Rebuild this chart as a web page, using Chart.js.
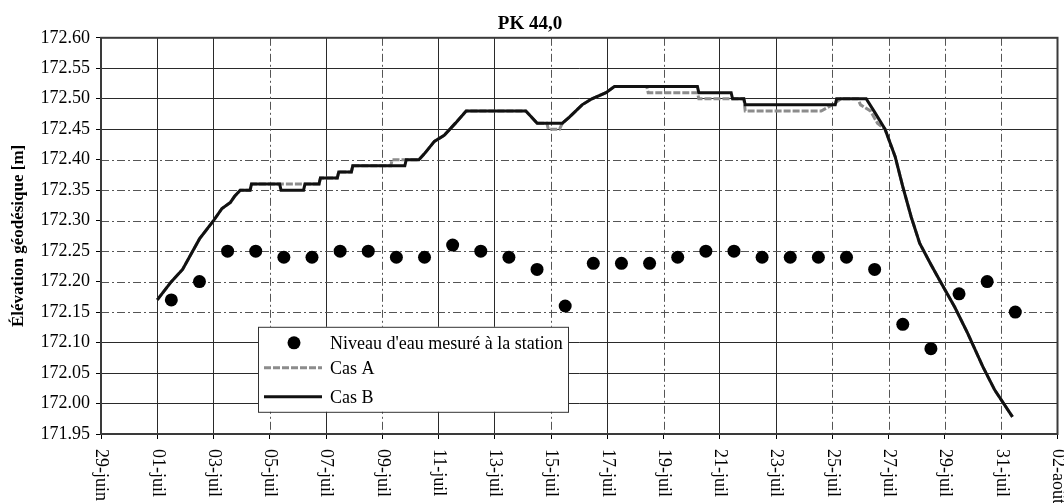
<!DOCTYPE html>
<html>
<head>
<meta charset="utf-8">
<script src="https://cdn.jsdelivr.net/npm/chart.js@4/dist/chart.umd.min.js"></script>
<style>
  body { margin: 0; background: #fff; }
</style>
</head>
<body>
<canvas id="chart" width="1064" height="503"></canvas>
<script>
// x is counted in days, 0 = 29-juin
const xTickDays = [0, 2, 4, 6, 8, 10, 12, 14, 16, 18, 20, 22, 24, 26, 28, 30, 32, 34];
const xTickLabels = ['29-juin', '01-juil', '03-juil', '05-juil', '07-juil', '09-juil', '11-juil',
  '13-juil', '15-juil', '17-juil', '19-juil', '21-juil', '23-juil', '25-juil', '27-juil',
  '29-juil', '31-juil', '02-août'];
const yTicks = [171.95, 172.00, 172.05, 172.10, 172.15, 172.20, 172.25, 172.30,
  172.35, 172.40, 172.45, 172.50, 172.55, 172.60];

// daily readings at the station (noon)
const measureDays = [2.5, 3.5, 4.5, 5.5, 6.5, 7.5, 8.5, 9.5, 10.5, 11.5, 12.5, 13.5, 14.5, 15.5,
  16.5, 17.5, 18.5, 19.5, 20.5, 21.5, 22.5, 23.5, 24.5, 25.5, 26.5, 27.5, 28.5, 29.5, 30.5,
  31.5, 32.5];
const measureLevels = [172.17, 172.20, 172.25, 172.25, 172.24, 172.24, 172.25, 172.25, 172.24,
  172.24, 172.26, 172.25, 172.24, 172.22, 172.16, 172.23, 172.23, 172.23, 172.24, 172.25,
  172.25, 172.24, 172.24, 172.24, 172.24, 172.22, 172.13, 172.09, 172.18, 172.20, 172.15];

const casBDays = [2.0, 2.5, 2.9, 3.5, 4.0, 4.3, 4.6, 4.75, 4.95, 5.3, 5.35, 6.35, 6.4, 7.2,
  7.25, 7.75, 7.8, 8.4, 8.45, 8.9, 8.95, 10.8, 10.85, 11.3, 11.5, 11.85, 12.2, 12.6, 12.98,
  15.1, 15.3, 15.5, 16.4, 16.65, 17.1, 17.45, 17.95, 18.25, 21.2, 21.25, 22.4, 22.45, 22.85,
  22.9, 26.1, 26.15, 27.2, 27.5, 27.87, 28.23, 28.5, 28.8, 29.1, 29.5, 29.86, 30.35, 30.8,
  31.35, 31.77, 32.4];
const casBLevels = [172.17, 172.20, 172.22, 172.27, 172.30, 172.32, 172.33, 172.34, 172.35,
  172.35, 172.36, 172.36, 172.35, 172.35, 172.36, 172.36, 172.37, 172.37, 172.38, 172.38,
  172.39, 172.39, 172.40, 172.40, 172.41, 172.43, 172.44, 172.46, 172.48, 172.48, 172.47,
  172.46, 172.46, 172.47, 172.49, 172.50, 172.51, 172.52, 172.52, 172.51, 172.51, 172.50,
  172.50, 172.49, 172.49, 172.50, 172.50, 172.478, 172.45, 172.405, 172.356, 172.306, 172.263,
  172.228, 172.198, 172.158, 172.116, 172.060, 172.022, 171.978];

const casADays = [2.0, 2.5, 2.9, 3.5, 4.0, 4.3, 4.6, 4.75, 4.95, 5.3, 5.35, 7.75, 7.8, 8.4,
  8.45, 8.9, 8.95, 10.3, 10.35, 11.3, 11.5, 11.85, 12.2, 12.6, 12.98, 15.1, 15.3, 15.5,
  15.85, 15.9, 16.3, 16.4, 16.65, 17.1, 17.45, 17.95, 18.25, 19.4, 19.45, 21.2, 21.25, 22.4,
  22.45, 22.85, 22.9, 25.6, 26.0, 26.3, 26.9, 27.0, 27.35, 27.6, 27.87, 28.23, 28.5, 28.8,
  29.1, 29.5, 29.86, 30.35, 30.8, 31.35, 31.77, 32.4];
const casALevels = [172.17, 172.20, 172.22, 172.27, 172.30, 172.32, 172.33, 172.34, 172.35,
  172.35, 172.36, 172.36, 172.37, 172.37, 172.38, 172.38, 172.39, 172.39, 172.40, 172.40,
  172.41, 172.43, 172.44, 172.46, 172.48, 172.48, 172.47, 172.46, 172.46, 172.45, 172.45,
  172.46, 172.47, 172.49, 172.50, 172.51, 172.52, 172.52, 172.51, 172.51, 172.50, 172.50,
  172.50, 172.50, 172.48, 172.48, 172.49, 172.50, 172.50, 172.49, 172.48, 172.46, 172.45,
  172.405, 172.356, 172.306, 172.263, 172.228, 172.198, 172.158, 172.116, 172.060, 172.022,
  171.978];

// grid lines that come out solid; the rest are dash-dot
const solidX = [2, 4, 8, 12, 14, 18, 22, 24];
const solidY = [172.00, 172.05, 172.10, 172.45, 172.50, 172.55];

const SERIF = '"Liberation Serif", "Times New Roman", serif';

function toPoints(days, levels) {
  return days.map((d, i) => ({x: d, y: levels[i]}));
}

function inList(list, v) {
  return list.some(s => Math.abs(s - v) < 1e-6);
}

const dashedGrid = {
  id: 'dashedGrid',
  beforeDatasetsDraw(chart) {
    const {ctx, chartArea: a, scales: {x, y}} = chart;
    ctx.save();
    ctx.strokeStyle = '#555';
    ctx.lineWidth = 1;
    ctx.setLineDash([8, 3, 2, 3]);
    ctx.beginPath();
    xTickDays.forEach(d => {
      if (inList(solidX, d) || d === 0 || d === 34) return;
      const px = Math.round(x.getPixelForValue(d)) + 0.5;
      ctx.moveTo(px, a.top);
      ctx.lineTo(px, a.bottom);
    });
    yTicks.forEach(v => {
      if (inList(solidY, v) || v === 171.95 || v === 172.60) return;
      const py = Math.round(y.getPixelForValue(v)) + 0.5;
      ctx.moveTo(a.left, py);
      ctx.lineTo(a.right, py);
    });
    ctx.stroke();
    ctx.restore();
  }
};

const frameAndLegend = {
  id: 'frameAndLegend',
  afterDatasetsDraw(chart) {
    const {ctx, chartArea: a} = chart;
    const ds = chart.data.datasets;
    ctx.save();
    ctx.strokeStyle = '#3a3a3a';
    ctx.lineWidth = 2;
    ctx.strokeRect(a.left, a.top, a.right - a.left, a.bottom - a.top);

    // legend box inside the plot
    const lx = a.left + 157, ly = a.top + 289, lw = 310, lh = 85;
    ctx.fillStyle = '#fff';
    ctx.fillRect(lx, ly, lw, lh);
    ctx.strokeStyle = '#333';
    ctx.lineWidth = 1;
    ctx.strokeRect(lx + 0.5, ly + 0.5, lw, lh);

    ctx.font = '18px ' + SERIF;
    ctx.textAlign = 'left';
    ctx.textBaseline = 'middle';
    const rows = [16, 41, 70];
    const textX = lx + 72;

    ctx.fillStyle = ds[0].backgroundColor;
    ctx.beginPath();
    ctx.arc(lx + 36, ly + rows[0], ds[0].pointRadius, 0, Math.PI * 2);
    ctx.fill();

    [1, 2].forEach((k, i) => {
      ctx.save();
      ctx.strokeStyle = ds[k].borderColor;
      ctx.lineWidth = ds[k].borderWidth;
      ctx.setLineDash(ds[k].borderDash || []);
      ctx.beginPath();
      ctx.moveTo(lx + 6, ly + rows[i + 1]);
      ctx.lineTo(lx + 64, ly + rows[i + 1]);
      ctx.stroke();
      ctx.restore();
    });

    ctx.fillStyle = '#000';
    ds.forEach((d, i) => ctx.fillText(d.label, textX, ly + rows[i] + 1));
    ctx.restore();
  },
  afterDraw(chart) {
    // date labels run downward under each tick
    const {ctx, chartArea: a, scales: {x}} = chart;
    ctx.save();
    ctx.font = '18px ' + SERIF;
    ctx.fillStyle = '#000';
    ctx.textAlign = 'left';
    ctx.textBaseline = 'middle';
    xTickDays.forEach((d, i) => {
      ctx.save();
      ctx.translate(x.getPixelForValue(d), a.bottom + 15);
      ctx.rotate(Math.PI / 2);
      ctx.fillText(xTickLabels[i], 0, 0);
      ctx.restore();
    });
    ctx.restore();
  }
};

new Chart(document.getElementById('chart'), {
  type: 'scatter',
  data: {
    datasets: [
      {
        label: "Niveau d'eau mesuré à la station",
        data: toPoints(measureDays, measureLevels),
        backgroundColor: '#000',
        borderWidth: 0,
        pointRadius: 6.5,
        order: 0
      },
      {
        label: 'Cas A',
        data: toPoints(casADays, casALevels),
        showLine: true,
        borderColor: '#8c8c8c',
        borderWidth: 3,
        borderDash: [7, 2],
        pointRadius: 0,
        tension: 0,
        order: 2
      },
      {
        label: 'Cas B',
        data: toPoints(casBDays, casBLevels),
        showLine: true,
        borderColor: '#111',
        borderWidth: 3,
        pointRadius: 0,
        tension: 0,
        order: 1
      }
    ]
  },
  options: {
    responsive: false,
    animation: false,
    layout: { padding: { left: 0, right: 4, top: 0, bottom: 0 } },
    plugins: {
      legend: { display: false },
      tooltip: { enabled: false },
      title: {
        display: true,
        text: 'PK 44,0',
        color: '#000',
        font: { family: SERIF, size: 19, weight: 'bold' },
        padding: { top: 13, bottom: 2 }
      }
    },
    scales: {
      x: {
        type: 'linear',
        min: 0,
        max: 34,
        afterBuildTicks: s => { s.ticks = xTickDays.map(v => ({value: v})); },
        afterFit: s => { s.height = 69; },
        ticks: { display: false },
        border: { display: false },
        grid: {
          color: c => (c.tick && inList(solidX, c.tick.value)) ? '#2a2a2a' : 'rgba(0,0,0,0)',
          lineWidth: 1,
          tickColor: '#000',
          tickLength: 5
        }
      },
      y: {
        min: 171.95,
        max: 172.60,
        afterBuildTicks: s => { s.ticks = yTicks.map(v => ({value: v})); },
        afterFit: s => { s.width = 101; },
        ticks: {
          color: '#000',
          padding: 6,
          font: { family: SERIF, size: 18 },
          callback: v => v.toFixed(2)
        },
        border: { display: false },
        grid: {
          color: c => (c.tick && inList(solidY, c.tick.value)) ? '#2a2a2a' : 'rgba(0,0,0,0)',
          lineWidth: 1,
          tickColor: '#000',
          tickLength: 5
        },
        title: {
          display: true,
          text: 'Élévation géodésique [m]',
          color: '#000',
          font: { family: SERIF, size: 17, weight: 'bold' },
          padding: { top: 8, bottom: 2 }
        }
      }
    }
  },
  plugins: [dashedGrid, frameAndLegend]
});
</script>
</body>
</html>
